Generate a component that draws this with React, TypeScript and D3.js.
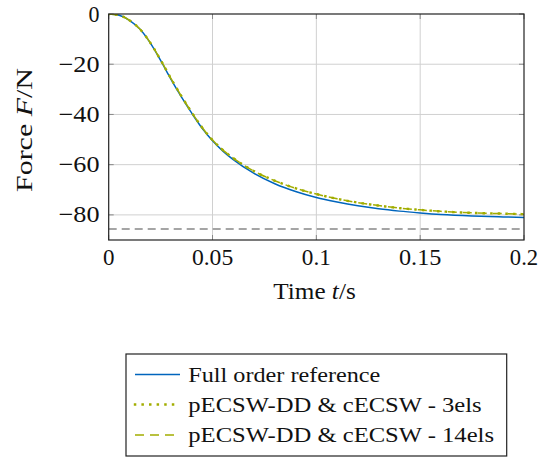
import React from "react";
import * as d3 from "d3";

const timeS = [0, 0.005, 0.01, 0.015, 0.02, 0.025, 0.03, 0.035, 0.04, 0.045, 0.05, 0.055, 0.06, 0.07, 0.08, 0.09, 0.1, 0.11, 0.12, 0.13, 0.14, 0.15, 0.16, 0.175, 0.19, 0.2];
const fullOrder = [0, -0.5, -2.5, -6, -11.5, -18.5, -26, -33, -39.5, -45.5, -50.5, -54.6, -58, -63.5, -67.6, -70.7, -73.1, -74.9, -76.4, -77.6, -78.5, -79.2, -79.8, -80.4, -80.8, -81.0];
const pecsw3 = [0, -0.5, -2.5, -6, -11.4, -18.3, -25.7, -32.7, -39.2, -45.2, -50.2, -54.2, -57.4, -62.6, -66.4, -69.4, -71.7, -73.6, -75.1, -76.3, -77.3, -78.0, -78.6, -79.2, -79.5, -79.7];
const pecsw14 = [0, -0.5, -2.5, -6, -11.4, -18.3, -25.7, -32.7, -39.2, -45.2, -50.2, -54.2, -57.4, -62.6, -66.4, -69.4, -71.7, -73.6, -75.1, -76.3, -77.3, -78.0, -78.6, -79.2, -79.5, -79.7];
const referenceLevel = -85.6;
const xTicks = [0, 0.05, 0.1, 0.15, 0.2];
const xTickLabels = ["0", "0.05", "0.1", "0.15", "0.2"];
const yTicks = [0, -20, -40, -60, -80];
const legendLabels = ["Full order reference", "pECSW-DD & cECSW - 3els", "pECSW-DD & cECSW - 14els"];

const W = 552, H = 457;
const L = 108.7, R = 524, T = 14, B = 240;
const FONT = "Liberation Serif, Times New Roman, serif";
const BLUE = "#0065BD";
const GREEN = "#A2AD00";

export default function App() {
  const x = d3.scaleLinear().domain([0, 0.2]).range([L, R]);
  const y = d3.scaleLinear().domain([-90, 0]).range([B, T]);
  const line = (vals: number[]) =>
    d3.line<number>().x((_, i) => x(timeS[i])).y((v) => y(v)).curve(d3.curveMonotoneX)(vals) || "";
  const minus = (v: number) => (v < 0 ? "\u2212" + Math.abs(v) : String(v));
  const legendStyles = [
    { stroke: BLUE, dash: undefined as string | undefined, w: 1.5, cap: "butt" },
    { stroke: GREEN, dash: "0.1,7.5", w: 2.4, cap: "square" },
    { stroke: GREEN, dash: "9,6", w: 1.5, cap: "butt" },
  ];
  const legendRowsY = [374.5, 404.5, 435];
  const legendLens = [192, 293.4, 305.7];
  const tickLens: Record<string, number> = { "0": 11.5, "0.05": 41.3, "0.1": 29, "0.15": 42.4, "0.2": 28.3 };
  const txt = (size: number) => ({ fontFamily: FONT, fontSize: size } as React.CSSProperties);
  return (
    <svg width={W} height={H} style={{ position: "absolute", left: 0, top: 0, background: "#fff" }}>
      <defs>
        <clipPath id="plotclip">
          <rect x={L} y={T} width={R - L} height={B - T} />
        </clipPath>
      </defs>
      {xTicks.slice(1, -1).map((t) => (
        <line key={"gx" + t} x1={x(t)} x2={x(t)} y1={T} y2={B} stroke="#d0d0d0" strokeWidth={1} />
      ))}
      {yTicks.slice(1).map((t) => (
        <line key={"gy" + t} x1={L} x2={R} y1={y(t)} y2={y(t)} stroke="#d0d0d0" strokeWidth={1} />
      ))}
      {xTicks.map((t) => (
        <g key={"tx" + t}>
          <line x1={x(t)} x2={x(t)} y1={B} y2={B - 5} stroke="#888" strokeWidth={1} />
          <line x1={x(t)} x2={x(t)} y1={T} y2={T + 5} stroke="#888" strokeWidth={1} />
        </g>
      ))}
      {yTicks.map((t) => (
        <g key={"ty" + t}>
          <line x1={L} x2={L + 5} y1={y(t)} y2={y(t)} stroke="#888" strokeWidth={1} />
          <line x1={R} x2={R - 5} y1={y(t)} y2={y(t)} stroke="#888" strokeWidth={1} />
        </g>
      ))}
      <g clipPath="url(#plotclip)">
        <line x1={L} x2={R} y1={y(referenceLevel)} y2={y(referenceLevel)} stroke="#888" strokeWidth={1.6} strokeDasharray="8,5" />
        <path d={line(fullOrder)} fill="none" stroke={BLUE} strokeWidth={1.5} />
        <path d={line(pecsw3)} fill="none" stroke={GREEN} strokeWidth={2.4} strokeDasharray="0.1,7.5" strokeLinecap="square" />
        <path d={line(pecsw14)} fill="none" stroke={GREEN} strokeWidth={1.5} strokeDasharray="9,6" />
      </g>
      <rect x={L} y={T} width={R - L} height={B - T} fill="none" stroke="#222" strokeWidth={1.2} />
      {xTicks.map((t, i) => (
        <text key={"lx" + t} x={x(t)} y={265} textAnchor="middle" style={txt(23)} fill="#111"
          textLength={tickLens[xTickLabels[i]]} lengthAdjust="spacingAndGlyphs">
          {xTickLabels[i]}
        </text>
      ))}
      {yTicks.map((t) => (
        <text key={"ly" + t} x={99.5} y={y(t) + 7.5} textAnchor="end" style={txt(23)} fill="#111"
          textLength={t < 0 ? 41 : 11} lengthAdjust="spacingAndGlyphs">
          {minus(t)}
        </text>
      ))}
      <text x={273.3} y={299.3} style={txt(23)} fill="#111" textLength={82.4} lengthAdjust="spacingAndGlyphs">
        Time <tspan fontStyle="italic">t</tspan>/s
      </text>
      <text transform={`translate(32, 192) rotate(-90)`} style={txt(23)} fill="#111" textLength={124} lengthAdjust="spacingAndGlyphs">
        Force <tspan fontStyle="italic">F</tspan>/N
      </text>
      <rect x={126} y={354} width={380.7} height={102} fill="#fff" stroke="#222" strokeWidth={1.2} />
      {legendLabels.map((lab, i) => {
        const cy = legendRowsY[i];
        const s = legendStyles[i];
        return (
          <g key={lab}>
            <line x1={135} x2={180} y1={cy} y2={cy} stroke={s.stroke} strokeWidth={s.w} strokeDasharray={s.dash} strokeLinecap={s.cap as any} />
            <text x={188.3} y={cy + 7.2} style={txt(21.5)} fill="#111" textLength={legendLens[i]} lengthAdjust="spacingAndGlyphs">
              {lab}
            </text>
          </g>
        );
      })}
    </svg>
  );
}
